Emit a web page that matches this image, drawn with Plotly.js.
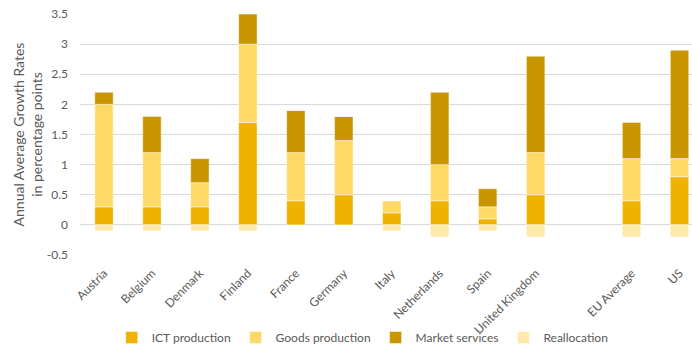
<!DOCTYPE html>
<html>
<head>
<meta charset="utf-8">
<script src="https://cdn.plot.ly/plotly-3.0.1.min.js"></script>
<style>html,body{margin:0;padding:0;background:#fff;}#chart{width:692px;height:352px;}</style>
</head>
<body>
<div id="chart"></div>
<script>
const categories = ["Austria","Belgium","Denmark","Finland","France","Germany","Italy","Netherlands","Spain","United Kingdom"," ","EU Average","US"];
const ictProduction   = [0.3, 0.3, 0.3, 1.7, 0.4, 0.5, 0.2, 0.4, 0.1, 0.5, null, 0.4, 0.8];
const goodsProduction = [1.7, 0.9, 0.4, 1.3, 0.8, 0.9, 0.2, 0.6, 0.2, 0.7, null, 0.7, 0.3];
const marketServices  = [0.2, 0.6, 0.4, 0.5, 0.7, 0.4, 0.0, 1.2, 0.3, 1.6, null, 0.6, 1.8];
const reallocation    = [-0.1, -0.1, -0.1, -0.1, 0.0, 0.0, -0.1, -0.2, -0.1, -0.2, null, -0.2, -0.2];
const yTicks = [-0.5, 0, 0.5, 1, 1.5, 2, 2.5, 3, 3.5];
const yTickText = ["-0.5","0","0.5","1","1.5","2","2.5","3","3.5"];

const lineStyle = {color: 'rgba(255,255,255,0.6)', width: 0.8};
function series(name, y, color) {
  return {type: 'bar', name: name, x: categories, y: y,
    marker: {color: color, line: lineStyle}, hoverinfo: 'y+name'};
}
const data = [
  series('ICT production', ictProduction, '#EFB200'),
  series('Goods production', goodsProduction, '#FFD966'),
  series('Market services', marketServices, '#C99600'),
  series('Reallocation', reallocation, '#FFE9AA')
];
const fam = 'Lato, "Open Sans", sans-serif';
const grey = '#595959';
const layout = {
  width: 692, height: 352,
  margin: {l: 80, r: 0, t: 14, b: 93.5},
  barmode: 'relative',
  bargap: 0.615,
  paper_bgcolor: '#fff', plot_bgcolor: '#fff',
  font: {family: fam, size: 12, color: grey},
  showlegend: true,
  legend: {orientation: 'h', x: 0.462, xanchor: 'center', y: -0.342, yanchor: 'middle',
    bgcolor: 'rgba(0,0,0,0)',
    font: {family: fam, size: 12, color: grey}, itemwidth: 30},
  xaxis: {type: 'category', range: [-0.5, 12.26], tickangle: -45, showgrid: false,
    zeroline: false, showline: false, ticks: '', ticklabelstandoff: 8,
    tickfont: {family: fam, size: 12, color: grey},
    automargin: false, fixedrange: true},
  yaxis: {range: [-0.5, 3.5], tickvals: yTicks, ticktext: yTickText, showgrid: true,
    gridcolor: '#D9D9D9', gridwidth: 1, zeroline: true, zerolinecolor: '#D9D9D9', zerolinewidth: 1,
    showline: false, ticks: '', ticklabelstandoff: 11, automargin: false,
    tickfont: {family: fam, size: 12, color: grey},
    title: {text: 'Annual Average Growth Rates<br>in percentage points', standoff: 0,
      font: {family: fam, size: 14, color: grey}}, fixedrange: true}
};
Plotly.newPlot('chart', data, layout, {displayModeBar: false, staticPlot: true});
</script>
</body>
</html>
